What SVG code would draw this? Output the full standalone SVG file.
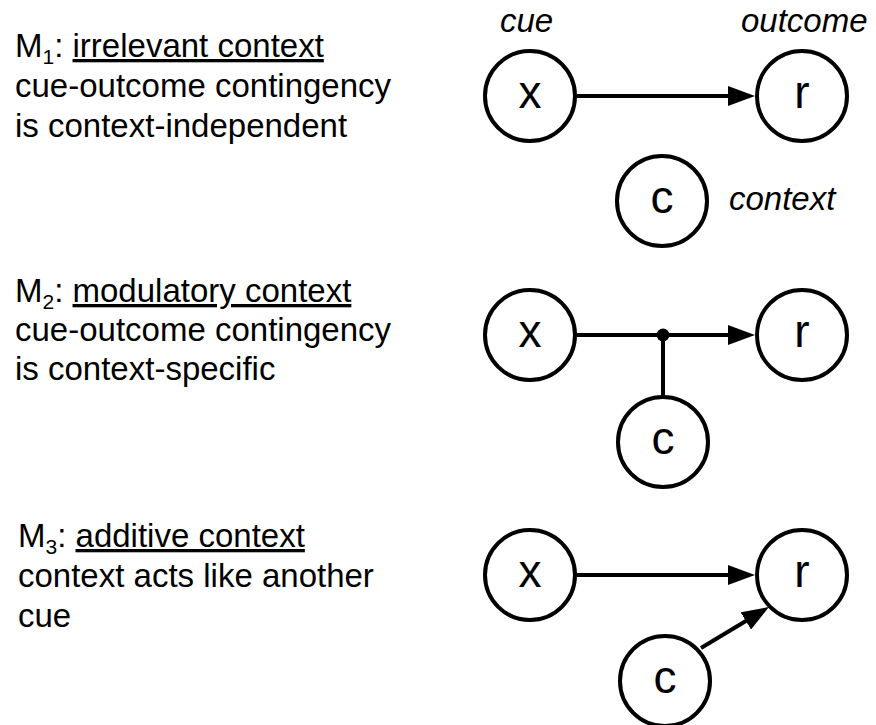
<svg xmlns="http://www.w3.org/2000/svg" width="876" height="725" viewBox="0 0 876 725">
<style>
.t{font-family:"Liberation Sans",Arial,sans-serif;font-size:33px;fill:#000}
.i{font-family:"Liberation Sans",Arial,sans-serif;font-size:33px;font-style:italic;fill:#000}
.n circle{fill:#fff;stroke:#000;stroke-width:4}
.n text{font-family:"Liberation Sans",Arial,sans-serif;font-size:46px;text-anchor:middle;fill:#000}
.e{stroke:#000;stroke-width:4;fill:none}
.u{text-decoration:underline}
.s{font-size:21px}
</style>
<defs>
<marker id="ah" markerUnits="userSpaceOnUse" markerWidth="27" markerHeight="20" refX="17" refY="10" orient="auto">
<path d="M0,0 L27,10 L0,20 z" fill="#000"/>
</marker>
</defs>
<rect width="876" height="725" fill="#fff"/>
<g id="labels">
<text class="t" x="15" y="57">M<tspan class="s" dy="7">1</tspan><tspan dy="-7">: </tspan><tspan class="u">irrelevant context</tspan></text>
<text class="t" x="15" y="97">cue-outcome contingency</text>
<text class="t" x="15" y="137">is context-independent</text>
<text class="t" x="15" y="302">M<tspan class="s" dy="7">2</tspan><tspan dy="-7">: </tspan><tspan class="u">modulatory context</tspan></text>
<text class="t" x="15" y="341">cue-outcome contingency</text>
<text class="t" x="15" y="380">is context-specific</text>
<text class="t" x="18" y="547">M<tspan class="s" dy="7">3</tspan><tspan dy="-7">: </tspan><tspan class="u">additive context</tspan></text>
<text class="t" x="18" y="587">context acts like another</text>
<text class="t" x="18" y="627">cue</text>
<text class="i" x="500" y="32">cue</text>
<text class="i" x="741" y="32">outcome</text>
<text class="i" x="729" y="210">context</text>
</g>
<g id="connectors">
<line class="e" x1="577" y1="96" x2="745" y2="96" marker-end="url(#ah)"/>
<line class="e" x1="577" y1="335" x2="745" y2="335" marker-end="url(#ah)"/>
<line class="e" x1="663" y1="335" x2="663" y2="396"/>
<circle cx="663" cy="335" r="6.5" fill="#000"/>
<line class="e" x1="577" y1="575" x2="745" y2="575" marker-end="url(#ah)"/>
<line class="e" x1="701" y1="648" x2="760.4" y2="612.2" marker-end="url(#ah)"/>
</g>
<g id="m1-x" class="n"><circle cx="530" cy="96" r="45"/><text x="530" y="108">x</text></g>
<g id="m1-r" class="n"><circle cx="802" cy="96" r="45"/><text x="802" y="108">r</text></g>
<g id="m1-c" class="n"><circle cx="662" cy="201" r="45"/><text x="662" y="213">c</text></g>
<g id="m2-x" class="n"><circle cx="530" cy="335" r="45"/><text x="530" y="347">x</text></g>
<g id="m2-r" class="n"><circle cx="802" cy="335" r="45"/><text x="802" y="347">r</text></g>
<g id="m2-c" class="n"><circle cx="663" cy="442" r="45"/><text x="663" y="454">c</text></g>
<g id="m3-x" class="n"><circle cx="530" cy="575" r="45"/><text x="530" y="587">x</text></g>
<g id="m3-r" class="n"><circle cx="802" cy="575" r="45"/><text x="802" y="587">r</text></g>
<g id="m3-c" class="n"><circle cx="665" cy="681" r="45"/><text x="665" y="693">c</text></g>
</svg>
